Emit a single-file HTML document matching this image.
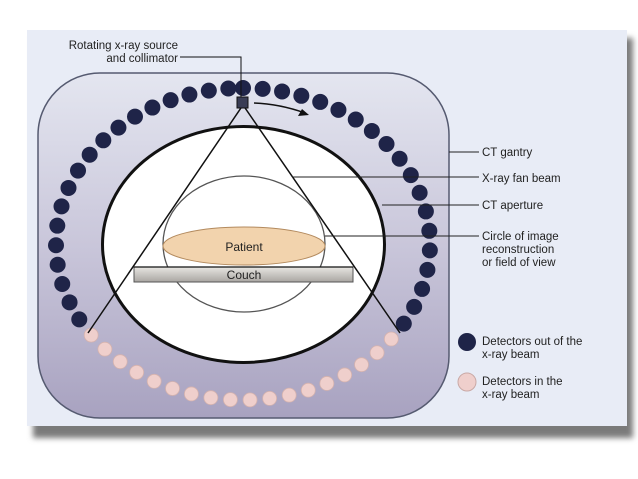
<!DOCTYPE html>
<html><head><meta charset="utf-8"><style>
html,body{margin:0;padding:0;background:#fff;width:638px;height:479px;overflow:hidden}
svg{display:block}
text{font-family:"Liberation Sans",Arial,sans-serif;fill:#222}
</style></head><body>
<svg id="s" width="638" height="479" viewBox="0 0 638 479" xmlns="http://www.w3.org/2000/svg">
<defs>
<linearGradient id="g" x1="0" y1="0" x2="0" y2="1">
<stop offset="0" stop-color="#e4e6f0"/><stop offset="0.5" stop-color="#c9c6da"/><stop offset="1" stop-color="#a8a2c0"/>
</linearGradient>
<linearGradient id="c" x1="0" y1="0" x2="0" y2="1">
<stop offset="0" stop-color="#e8e6e2"/><stop offset="1" stop-color="#a9a6a2"/>
</linearGradient>
<filter id="sh" x="-5%" y="-5%" width="115%" height="120%"><feGaussianBlur stdDeviation="3"/></filter>
</defs>
<rect x="33" y="38" width="600" height="400" fill="#7a7a7a" filter="url(#sh)"/>
<rect x="27" y="30" width="600" height="396" fill="#e8ecf6"/>
<rect x="38" y="73" width="411" height="345" rx="62" fill="url(#g)" stroke="#555a70" stroke-width="1.5"/>
<g id="dots"></g>
<ellipse cx="243.5" cy="244.5" rx="141" ry="118" fill="#fff" stroke="#111" stroke-width="3"/>
<ellipse cx="244" cy="244" rx="81" ry="68" fill="none" stroke="#555" stroke-width="1.3"/>
<ellipse cx="244" cy="246" rx="81" ry="19" fill="#f2d3ad" stroke="#b38a5e" stroke-width="1"/>
<text x="244" y="251" font-size="12" text-anchor="middle">Patient</text>
<rect x="134" y="267" width="219" height="15" fill="url(#c)" stroke="#555" stroke-width="1"/>
<text x="244" y="279" font-size="12" text-anchor="middle">Couch</text>
<line x1="134" y1="267" x2="353" y2="267" stroke="#111" stroke-width="1.3"/>
<polyline points="88,333 243,105 400,333" fill="none" stroke="#111" stroke-width="1.5"/>
<rect x="237" y="97" width="11" height="11" fill="#3a3d55" stroke="#111"/>
<path d="M254 103 Q280 104 305 113" fill="none" stroke="#111" stroke-width="1.4"/>
<polygon points="309,115 298,116 302,109" fill="#111"/>
<polyline points="180,57 241,57 241,97" fill="none" stroke="#111" stroke-width="1"/>
<text x="178" y="49" font-size="11.5" text-anchor="end">Rotating x-ray source</text>
<text x="178" y="62" font-size="11.5" text-anchor="end">and collimator</text>
<g stroke="#222" stroke-width="1">
<line x1="449" y1="152" x2="479" y2="152"/>
<line x1="292" y1="177" x2="479" y2="177"/>
<line x1="382" y1="205" x2="479" y2="205"/>
<line x1="325" y1="236" x2="479" y2="236"/>
</g>
<g font-size="11.5">
<text x="482" y="156">CT gantry</text>
<text x="482" y="182">X-ray fan beam</text>
<text x="482" y="209">CT aperture</text>
<text x="482" y="240">Circle of image</text>
<text x="482" y="253">reconstruction</text>
<text x="482" y="266">or field of view</text>
<text x="482" y="345">Detectors out of the</text>
<text x="482" y="358">x-ray beam</text>
<text x="482" y="385">Detectors in the</text>
<text x="482" y="398">x-ray beam</text>
</g>
<circle cx="467" cy="342" r="9" fill="#1f2448"/>
<circle cx="467" cy="382" r="9" fill="#efcfcc" stroke="#c9a9a6"/>
</svg>
<script>
(function(){
var g=document.getElementById('dots'),cx=243,cy=244,rx=187,ry=156,ns='http://www.w3.org/2000/svg';
var pts=[],N=4000;
for(var i=0;i<=N;i++){var t=-Math.PI/2+2*Math.PI*i/N;pts.push([cx+rx*Math.cos(t),cy+ry*Math.sin(t)]);}
var out=[[pts[0][0],pts[0][1]]],acc=0,sp=19.6;
for(var i=1;i<pts.length;i++){var dx=pts[i][0]-pts[i-1][0],dy=pts[i][1]-pts[i-1][1];acc+=Math.sqrt(dx*dx+dy*dy);if(acc>=sp){acc=0;out.push(pts[i]);}}
out.forEach(function(p){
var c=document.createElementNS(ns,'circle');c.setAttribute('cx',p[0]);c.setAttribute('cy',p[1]);
var pink=p[1]>333;
c.setAttribute('r',pink?7:8);
c.setAttribute('fill',pink?'#efcfcc':'#1f2448');
if(pink){c.setAttribute('stroke','#d4b2ae');c.setAttribute('stroke-width','0.8');}
g.appendChild(c);});
})();
</script>
</body></html>
